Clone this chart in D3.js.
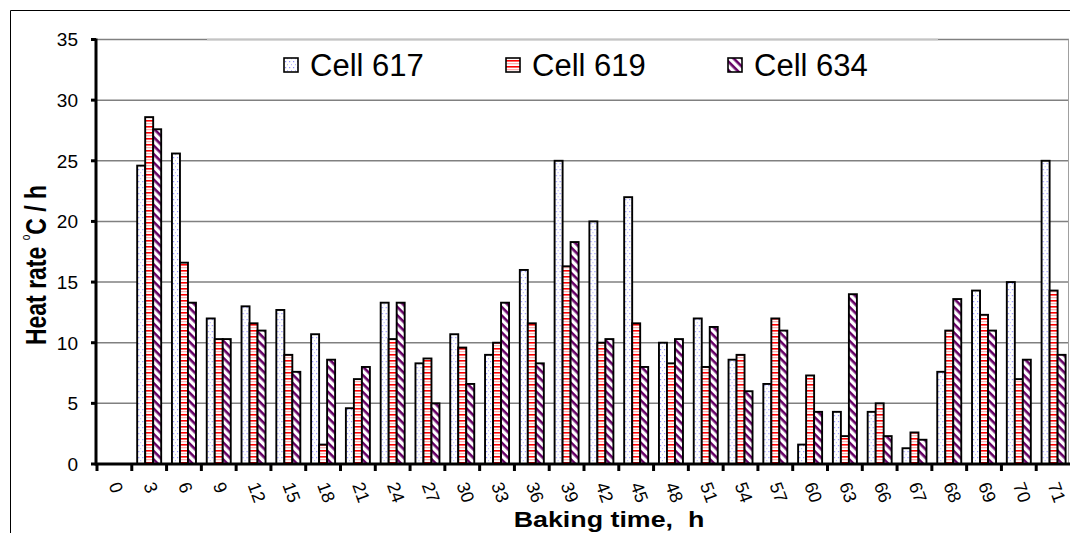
<!DOCTYPE html>
<html>
<head>
<meta charset="utf-8">
<script src="https://cdn.jsdelivr.net/npm/d3@7"></script>
<style>
  html, body { margin: 0; padding: 0; background: #fff; }
  svg { display: block; font-family: Arial, "Liberation Sans", sans-serif; }
</style>
</head>
<body>
<div id="chart"></div>
<script>
// baking time categories (h)
const hours = ["0", "3", "6", "9", "12", "15", "18", "21", "24", "27", "30", "33", "36", "39",
  "42", "45", "48", "51", "54", "57", "60", "63", "66", "67", "68", "69", "70", "71"];

// heat rate per cell, °C / h
const cell617 = [0, 24.6, 25.6, 12.0, 13.0, 12.7, 10.7, 4.6, 13.3, 8.3, 10.7, 9.0, 16.0, 25.0,
  20.0, 22.0, 10.0, 12.0, 8.6, 6.6, 1.6, 4.3, 4.3, 1.3, 7.6, 14.3, 15.0, 25.0];
const cell619 = [0, 28.6, 16.6, 10.3, 11.6, 9.0, 1.6, 7.0, 10.3, 8.7, 9.6, 10.0, 11.6, 16.3,
  10.0, 11.6, 8.3, 8.0, 9.0, 12.0, 7.3, 2.3, 5.0, 2.6, 11.0, 12.3, 7.0, 14.3];
const cell634 = [0, 27.6, 13.3, 10.3, 11.0, 7.6, 8.6, 8.0, 13.3, 5.0, 6.6, 13.3, 8.3, 18.3,
  10.3, 8.0, 10.3, 11.3, 6.0, 11.0, 4.3, 14.0, 2.3, 2.0, 13.6, 11.0, 8.6, 9.0];

const seriesNames = ["Cell 617", "Cell 619", "Cell 634"];
const yTicks = [0, 5, 10, 15, 20, 25, 30, 35];

const width = 1070, height = 533;
const plot = { left: 97, right: 1071, top: 39.5, bottom: 464 };

const series = [
  { name: seriesNames[0], values: cell617, fill: "url(#dots)" },
  { name: seriesNames[1], values: cell619, fill: "url(#hstripes)" },
  { name: seriesNames[2], values: cell634, fill: "url(#diag)" }
];

const svg = d3.select("#chart")
  .append("svg")
    .attr("width", width)
    .attr("height", height);

/*****************/
/*   patterns    */
/*****************/
const defs = svg.append("defs");

const dots = defs.append("pattern")
  .attr("id", "dots")
  .attr("patternUnits", "userSpaceOnUse")
  .attr("width", 4).attr("height", 6);
dots.append("rect").attr("width", 4).attr("height", 6).attr("fill", "#fff");
dots.append("rect").attr("x", 1).attr("y", 1).attr("width", 1.2).attr("height", 1.2).attr("fill", "#8f8fff");
dots.append("rect").attr("x", 3).attr("y", 4).attr("width", 1.2).attr("height", 1.2).attr("fill", "#b8b8ff");

const hs = defs.append("pattern")
  .attr("id", "hstripes")
  .attr("patternUnits", "userSpaceOnUse")
  .attr("width", 6).attr("height", 6);
hs.append("rect").attr("width", 6).attr("height", 6).attr("fill", "#fff");
hs.append("rect").attr("y", 0).attr("width", 6).attr("height", 1.6).attr("fill", "#ff0000");
hs.append("rect").attr("y", 3.2).attr("width", 6).attr("height", 1).attr("fill", "#ff9a9a");

const dg = defs.append("pattern")
  .attr("id", "diag")
  .attr("patternUnits", "userSpaceOnUse")
  .attr("width", 6).attr("height", 6)
  .attr("patternTransform", "rotate(45)");
dg.append("rect").attr("width", 6).attr("height", 6).attr("fill", "#fff");
dg.append("rect").attr("width", 6).attr("height", 2.6).attr("fill", "#660066");

/*****************/
/*    frame      */
/*****************/
svg.append("path")
  .attr("d", `M10.5,${height} V10.5 H${width}`)
  .attr("fill", "none")
  .attr("stroke", "#000")
  .attr("stroke-width", 1);

/*****************/
/*    scales     */
/*****************/
const xScale = d3.scaleBand()
  .domain(hours)
  .range([plot.left, plot.right])
  .paddingInner(0.31)
  .paddingOuter(0.155);

const xInner = d3.scaleBand()
  .domain(seriesNames)
  .range([0, xScale.bandwidth()]);

const yScale = d3.scaleLinear()
  .domain([0, 35])
  .range([plot.bottom, plot.top]);

// gridlines
svg.append("g")
  .selectAll("line")
  .data(yTicks.filter(d => d > 0))
  .join("line")
    .attr("x1", plot.left - 1)
    .attr("x2", 1069)
    .attr("y1", d => yScale(d))
    .attr("y2", d => yScale(d))
    .attr("stroke", "#808080")
    .attr("stroke-width", 1.5);

// right border of plot area
svg.append("line")
  .attr("x1", 1068.5).attr("x2", 1068.5)
  .attr("y1", yScale(35)).attr("y2", plot.bottom)
  .attr("stroke", "#a0a0a0")
  .attr("stroke-width", 1);

/*****************/
/*    legend     */
/*****************/
const legend = svg.append("g");
// lighter top edge where the legend sits on the top gridline
legend.append("line")
  .attr("x1", 207).attr("x2", 938)
  .attr("y1", yScale(35)).attr("y2", yScale(35))
  .attr("stroke", "#c4c4c4")
  .attr("stroke-width", 1.5);

const legendItem = legend.selectAll("g.item")
  .data(series)
  .join("g")
    .attr("class", "item")
    .attr("transform", (d, i) => `translate(${284 + i * 222}, 0)`);
legendItem.append("rect")
  .attr("x", 0).attr("y", 58)
  .attr("width", 14).attr("height", 14)
  .attr("fill", d => d.fill)
  .attr("stroke", "#000")
  .attr("stroke-width", 1.6);
legendItem.append("text")
  .attr("x", 26).attr("y", 75.5)
  .attr("font-size", 31)
  .attr("fill", "#000")
  .text(d => d.name);

/*****************/
/*     bars      */
/*****************/
const groups = svg.append("g")
  .selectAll("g")
  .data(hours)
  .join("g")
    .attr("transform", d => `translate(${xScale(d)}, 0)`);

groups.selectAll("rect")
  .data((h, i) => series.map(s => ({ name: s.name, fill: s.fill, value: s.values[i] })).filter(d => d.value > 0))
  .join("rect")
    .attr("x", d => xInner(d.name))
    .attr("y", d => yScale(d.value))
    .attr("width", xInner.bandwidth())
    .attr("height", d => plot.bottom - yScale(d.value))
    .attr("fill", d => d.fill)
    .attr("stroke", "#000")
    .attr("stroke-width", 1.9);

/*****************/
/*     axes      */
/*****************/
const bottomAxis = d3.axisBottom(xScale).tickSize(0).tickFormat("");
const xAxis = svg.append("g")
  .attr("transform", `translate(0, ${plot.bottom})`)
  .call(bottomAxis);
xAxis.select(".domain").remove();
xAxis.append("line")
  .attr("x1", plot.left - 1).attr("x2", 1070)
  .attr("stroke", "#000").attr("stroke-width", 3);

// ticks at category boundaries
xAxis.selectAll("line.boundary")
  .data(hours)
  .join("line")
    .attr("class", "boundary")
    .attr("x1", d => xScale(d) - xScale.step() * xScale.paddingInner() / 2)
    .attr("x2", d => xScale(d) - xScale.step() * xScale.paddingInner() / 2)
    .attr("y1", 0).attr("y2", 7)
    .attr("stroke", "#000").attr("stroke-width", 3);

// rotated category labels
xAxis.selectAll("text.hour")
  .data(hours)
  .join("text")
    .attr("class", "hour")
    .attr("transform", d => `translate(${xScale(d) + xScale.bandwidth() / 2 - 6}, 21) rotate(70)`)
    .attr("text-anchor", "start")
    .attr("font-size", 18)
    .attr("fill", "#000")
    .text(d => d);

const leftAxis = d3.axisLeft(yScale).tickValues(yTicks).tickSize(0).tickFormat("");
const yAxis = svg.append("g")
  .attr("transform", `translate(${plot.left - 1}, 0)`)
  .call(leftAxis);
yAxis.select(".domain").remove();
yAxis.append("line")
  .attr("y1", yScale(35) - 1).attr("y2", plot.bottom + 1.5)
  .attr("stroke", "#000").attr("stroke-width", 3);
yAxis.selectAll("line.tk")
  .data(yTicks)
  .join("line")
    .attr("class", "tk")
    .attr("x1", -5).attr("x2", 0)
    .attr("y1", d => yScale(d)).attr("y2", d => yScale(d))
    .attr("stroke", "#000").attr("stroke-width", 3);
yAxis.selectAll("text.val")
  .data(yTicks)
  .join("text")
    .attr("class", "val")
    .attr("x", -18)
    .attr("y", d => yScale(d))
    .attr("dy", "0.36em")
    .attr("text-anchor", "end")
    .attr("font-size", 19)
    .attr("fill", "#000")
    .text(d => d);

/*****************/
/*  axis titles  */
/*****************/
svg.append("text")
  .attr("transform", "translate(609, 527) scale(1.22, 1)")
  .attr("text-anchor", "middle")
  .attr("font-size", 22)
  .attr("font-weight", "bold")
  .attr("fill", "#000")
  .text("Baking time,\u00A0 h");

const yTitle = svg.append("text")
  .attr("transform", "translate(46, 265) scale(1.3, 1) rotate(-90)")
  .attr("text-anchor", "middle")
  .attr("font-size", 23)
  .attr("font-weight", "bold")
  .attr("fill", "#000");
yTitle.append("tspan").text("Heat rate ");
yTitle.append("tspan").attr("font-size", 10).attr("font-weight", "normal").attr("dy", -12).text("o");
yTitle.append("tspan").attr("dy", 12).text("C / h");
</script>
</body>
</html>
